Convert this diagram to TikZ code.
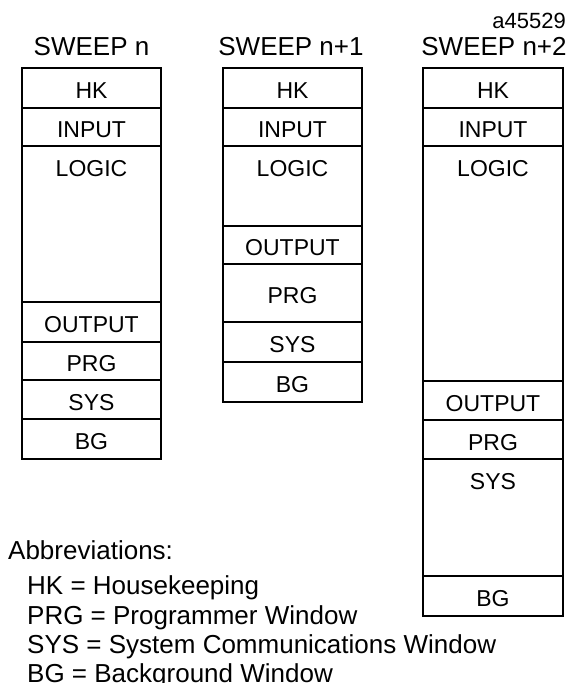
\documentclass[tikz,border=0pt]{standalone}
\usepackage{fontspec}
\setmainfont{Liberation Sans}
\usetikzlibrary{fit}
\begin{document}
\begin{tikzpicture}[x=1pt,y=-1pt,
  seg/.style={draw=black, line width=1.6pt, inner sep=0pt, outer sep=0pt, rectangle},
  lbl/.style={font=\fontsize{23}{27}\selectfont, anchor=base, inner sep=0pt},
  title/.style={font=\fontsize{26}{30}\selectfont, anchor=base, inner sep=0pt},
  note/.style={font=\fontsize{26}{30}\selectfont, anchor=base west, inner sep=0pt},
  tag/.style={font=\fontsize{22}{26}\selectfont, anchor=base east, inner sep=0pt}]
\useasboundingbox (0,0) rectangle (573,683);

% one block of a sweep: name, left, right, top, bottom
\newcommand\sweepseg[5]{\node[seg, fit={(#2,#4)(#3,#5)}] (#1) {};}
% label centred in a block, or placed near its top
\newcommand\midlabel[2]{\node[lbl] (#1-t) at ([yshift=-10.5pt]#1.center) {#2};}
\newcommand\toplabel[2]{\node[lbl] (#1-t) at ([yshift=-30pt]#1.north) {#2};}

% ---- SWEEP n ----
\sweepseg{a1}{22}{161}{68}{108}
\sweepseg{a2}{22}{161}{108}{146}
\sweepseg{a3}{22}{161}{146}{302}
\sweepseg{a4}{22}{161}{302}{342}
\sweepseg{a5}{22}{161}{342}{380}
\sweepseg{a6}{22}{161}{380}{419}
\sweepseg{a7}{22}{161}{419}{459}
\midlabel{a1}{HK}
\midlabel{a2}{INPUT}
\toplabel{a3}{LOGIC}
\midlabel{a4}{OUTPUT}
\midlabel{a5}{PRG}
\midlabel{a6}{SYS}
\midlabel{a7}{BG}
\node[title] (ta) at (91.5,55) {SWEEP n};

% ---- SWEEP n+1 ----
\sweepseg{b1}{223}{362}{68}{108}
\sweepseg{b2}{223}{362}{108}{146}
\sweepseg{b3}{223}{362}{146}{226}
\sweepseg{b4}{223}{362}{226}{264}
\sweepseg{b5}{223}{362}{264}{322}
\sweepseg{b6}{223}{362}{322}{362}
\sweepseg{b7}{223}{362}{362}{402}
\midlabel{b1}{HK}
\midlabel{b2}{INPUT}
\toplabel{b3}{LOGIC}
\midlabel{b4}{OUTPUT}
\midlabel{b5}{PRG}
\midlabel{b6}{SYS}
\midlabel{b7}{BG}
\node[title] (tb) at (291,55) {SWEEP n+1};

% ---- SWEEP n+2 ----
\sweepseg{c1}{423}{563}{68}{108}
\sweepseg{c2}{423}{563}{108}{146}
\sweepseg{c3}{423}{563}{146}{381}
\sweepseg{c4}{423}{563}{381}{420}
\sweepseg{c5}{423}{563}{420}{459}
\sweepseg{c6}{423}{563}{459}{576}
\sweepseg{c7}{423}{563}{576}{616}
\midlabel{c1}{HK}
\midlabel{c2}{INPUT}
\toplabel{c3}{LOGIC}
\midlabel{c4}{OUTPUT}
\midlabel{c5}{PRG}
\toplabel{c6}{SYS}
\midlabel{c7}{BG}
\node[title] (tc) at (494,55) {SWEEP n+2};

\node[tag] (id) at (566,28) {a45529};

% ---- abbreviations ----
\node[note] (ab0) at (8,559) {Abbreviations:};
\node[note] (ab1) at (27,594) {HK = Housekeeping};
\node[note] (ab2) at (27,624) {PRG = Programmer Window};
\node[note] (ab3) at (27,653) {SYS = System Communications Window};
\node[note] (ab4) at (27,682) {BG = Background Window};
\end{tikzpicture}
\end{document}
